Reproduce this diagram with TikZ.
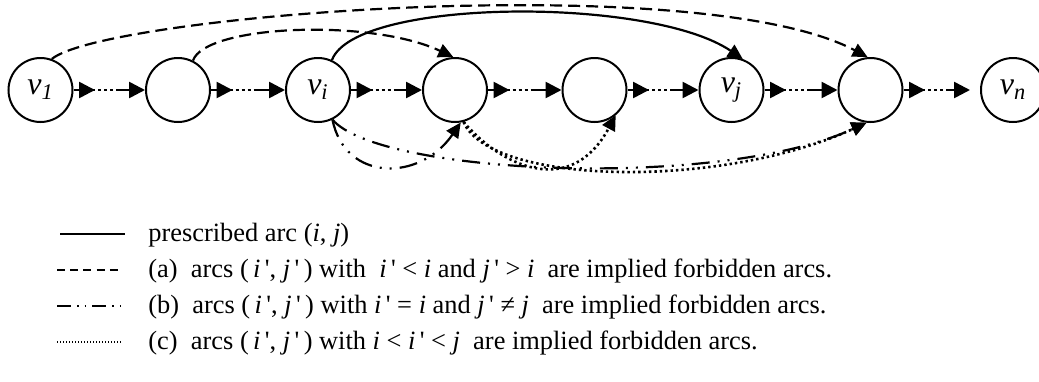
\documentclass[tikz,border=0pt]{standalone}
\usepackage{fontspec}
\setmainfont{Liberation Serif}
\usetikzlibrary{arrows.meta,decorations.markings}
\newcommand{\pr}{\,\textquotesingle}
\tikzset{
  nd/.style={circle, draw, line width=1pt, minimum size=32pt, inner sep=0pt, font=\fontsize{16}{18}\selectfont\itshape},
  chainln/.style={line width=1.3pt,
    dash pattern=on 10.75pt off 1.6pt on 1.4pt off 1.6pt on 1.4pt off 1.6pt on 1.4pt off 1.6pt on 40pt,
    -{Triangle[length=8pt,width=8pt]},
    postaction={decorate, decoration={markings, mark=at position 10.75pt with {\arrow{Triangle[length=8pt,width=8pt]}}}}},
  tipc/.style={-{Triangle[length=7.5pt,width=7pt]}},
  arcA/.style={tipc, line width=1.1pt, dash pattern=on 6pt off 3pt},
  arcP/.style={tipc, line width=1.1pt},
  arcB/.style={tipc, line width=1.1pt, dash pattern=on 9pt off 4pt on 1pt off 4pt on 1pt off 4pt},
  arcC/.style={tipc, line width=1.3pt, dash pattern=on 1.2pt off 1.5pt},
  legtxt/.style={anchor=base west, inner sep=0pt, font=\fontsize{13.2}{15}\selectfont},
}
\begin{document}
\begin{tikzpicture}[x=0.5pt,y=-0.5pt]
\useasboundingbox (0,0) rectangle (1039,381);
% nodes
\node[nd] (v1) at (40.5,90) {v\textsubscript{1}};
\node[nd] (n2) at (178,90) {};
\node[nd] (vi) at (318,90) {v\textsubscript{i}};
\node[nd] (n4) at (455,90) {};
\node[nd] (n5) at (594.5,90) {};
\node[nd] (vj) at (731.5,90) {v\textsubscript{j}};
\node[nd] (n7) at (870.5,90) {};
\node[nd] (vn) at (1013,90) {v\textsubscript{n}};
% chain
\draw[chainln] (v1) -- (n2);
\draw[chainln] (n2) -- (vi);
\draw[chainln] (vi) -- (n4);
\draw[chainln] (n4) -- (n5);
\draw[chainln] (n5) -- (vj);
\draw[chainln] (vj) -- (n7);
\draw[chainln, shorten >=5pt] (n7) -- (vn);
% (a) arcs
\draw[arcA] (v1.70) .. controls (105,15) and (700,-32) .. (n7.95);
\draw[arcA] (n2.63) .. controls (205,25) and (370,18) .. (n4.93);
% prescribed arc
\draw[arcP] (vi.65) .. controls (355,-2) and (650,-4) .. (vj.70);
% (b) arcs
\draw[arcB] (vi.-64) .. controls (345,182) and (420,182) .. (n4.-80);
\draw[arcB] (vi.-64) .. controls (380,175) and (720,190) .. (n7.-97);
% (c) arcs
\draw[arcC] (n4.-75) .. controls (500,165) and (570,200) .. (n5.-50);
\draw[arcC] (n4.-75) .. controls (490,185) and (720,190) .. (n7.-97);
% legend
\draw[line width=1.2pt] (60,234) -- (125,234);
\draw[line width=0.7pt, dash pattern=on 4pt off 2.6pt] (57,270) -- (122,270);
\draw[line width=1pt, dash pattern=on 7pt off 3pt on 0.8pt off 3pt on 0.8pt off 3pt] (57,306) -- (122,306);
\draw[line width=0.6pt, dash pattern=on 0.6pt off 0.9pt] (57,342) -- (122,342);
\node[legtxt] (l0) at (148,241) {prescribed arc (\textit{i}, \textit{j})};
\node[legtxt] (la) at (148,277) {(a)\ \ arcs (\,\textit{i}\pr, \textit{j}\pr\,) with \ \textit{i}\pr\ <\ \textit{i} and \textit{j}\pr\ >\ \textit{i} \ are implied forbidden arcs.};
\node[legtxt] (lb) at (148,313) {(b)\ \ arcs (\,\textit{i}\pr, \textit{j}\pr\,) with \textit{i}\pr\ =\ \textit{i} and \textit{j}\pr\ ≠\ \textit{j} \ are implied forbidden arcs.};
\node[legtxt] (lc) at (148,349) {(c)\ \ arcs (\,\textit{i}\pr, \textit{j}\pr\,) with \textit{i}\ <\ \textit{i}\pr\ <\ \textit{j} \ are implied forbidden arcs.};
\end{tikzpicture}
\end{document}
